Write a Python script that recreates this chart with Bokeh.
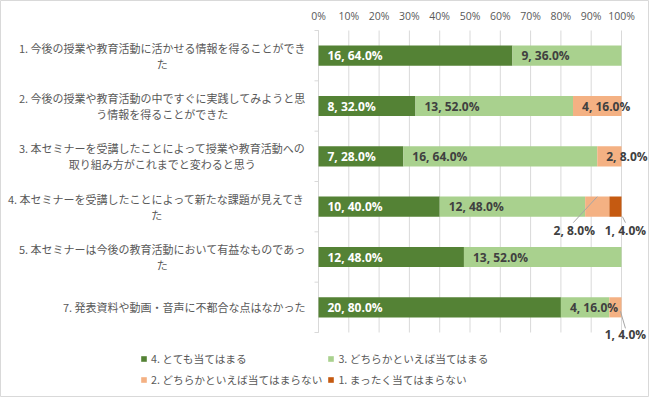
from bokeh.plotting import figure
from bokeh.models import ColumnDataSource, Range1d, Legend, LegendItem
from bokeh.core.properties import field, value
from bokeh.embed import file_html
from bokeh.resources import INLINE

# ---------------- data ----------------
categories = [
    "1. 今後の授業や教育活動に活かせる情報を得ることができ\nた",
    "2. 今後の授業や教育活動の中ですぐに実践してみようと思\nう情報を得ることができた",
    "3. 本セミナーを受講したことによって授業や教育活動への\n取り組み方がこれまでと変わると思う",
    "4. 本セミナーを受講したことによって新たな課題が見えてき\nた",
    "5. 本セミナーは今後の教育活動において有益なものであっ\nた",
    "7. 発表資料や動画・音声に不都合な点はなかった",
]
series_names = [
    "4. とても当てはまる",
    "3. どちらかといえば当てはまる",
    "2. どちらかといえば当てはまらない",
    "1. まったく当てはまらない",
]
counts_4 = [16, 8, 7, 10, 12, 20]
counts_3 = [9, 13, 16, 12, 13, 4]
counts_2 = [0, 4, 2, 2, 0, 1]
counts_1 = [0, 0, 0, 1, 0, 0]
respondents = 25
x_ticks = [0, 10, 20, 30, 40, 50, 60, 70, 80, 90, 100]
x_tick_labels = ["0%", "10%", "20%", "30%", "40%", "50%", "60%", "70%", "80%", "90%", "100%"]

# ---------------- style ----------------
series_colors = ["#548235", "#A9D18E", "#F4B183", "#C55A11"]
label_colors = ["#FFFFFF", "#404040", "#404040", "#FFFFFF"]
TEXT_GRAY = "#595959"
GRID = "#D9D9D9"
LEADER = "#A6A6A6"
CJK = "Noto Sans CJK JP"
NUM_FONT = "Open Sans"

FIG_W, FIG_H = 649, 397
PLOT_L, PLOT_W = 318, 303      # pixel position / width of the 0-100 % area
PLOT_T, PLOT_H = 30, 302       # pixel position / height of the category area
PX_X = PLOT_W / 100.0
n = len(categories)
PX_Y = PLOT_H / float(n)
CAT_FONT = 11
CAT_GAP = 13
BAR_H = 0.4
INSIDE_OFF = 9
TICK_LABEL_DY = -15           # px above the plot area
AXIS_TICK = 4
LABEL_FONT = "12px"

callouts = [
    dict(row=3, series=2, ldx=-23, ldy=24, s=(0, -10), e=(-1, -8)),
    dict(row=3, series=3, ldx=10, ldy=24, s=(7, 10), e=(0, -8)),
    dict(row=5, series=2, ldx=10, ldy=27, s=(5, 4), e=(0, -6)),
]

series_counts = [counts_4, counts_3, counts_2, counts_1]
ycent = [i + 0.5 for i in range(n)]

x_range = Range1d(-PLOT_L / PX_X, (FIG_W - PLOT_L) / PX_X)
y_range = Range1d((FIG_H - PLOT_T) / PX_Y, -PLOT_T / PX_Y)
p = figure(width=FIG_W, height=FIG_H, x_range=x_range, y_range=y_range,
           output_backend="svg", toolbar_location=None, x_axis_type=None, y_axis_type=None,
           min_border=0)
p.outline_line_color = GRID
p.grid.grid_line_color = None
p.background_fill_color = "white"
p.border_fill_color = "white"

# gridlines + top tick labels
p.segment(x0=x_ticks, y0=[0] * len(x_ticks), x1=x_ticks, y1=[n] * len(x_ticks),
          line_color=GRID, line_width=1)
p.text(x=x_ticks, y=[TICK_LABEL_DY / PX_Y] * len(x_ticks), text=x_tick_labels,
       text_align="center", text_baseline="middle", text_color=TEXT_GRAY,
       text_font=value(NUM_FONT), text_font_size="10.5px")

# vertical axis line with ticks between categories
bounds = list(range(n + 1))
p.segment(x0=[0], y0=[0], x1=[0], y1=[n], line_color=GRID, line_width=1)
p.segment(x0=[-AXIS_TICK / PX_X] * len(bounds), y0=bounds, x1=[0] * len(bounds), y1=bounds,
          line_color=GRID, line_width=1)

# bars
callout_keys = {(c["row"], c["series"]) for c in callouts}
cum = [0.0] * n
renderers = []
in_x, in_y, in_text, in_color = [], [], [], []
seg_info = {}
for s, vals in enumerate(series_counts):
    left = list(cum)
    pct = [v / respondents * 100 for v in vals]
    right = [l + q for l, q in zip(left, pct)]
    src = ColumnDataSource(dict(y=ycent, left=left, right=right))
    r = p.hbar(y="y", left="left", right="right", height=BAR_H, source=src,
               fill_color=series_colors[s], line_color=None)
    renderers.append(r)
    for i in range(n):
        if vals[i] > 0:
            txt = f"{vals[i]}, {pct[i]:.1f}%"
            seg_info[(i, s)] = ((left[i] + right[i]) / 2, txt)
            if (i, s) not in callout_keys:
                in_x.append(left[i]); in_y.append(ycent[i])
                in_text.append(txt); in_color.append(label_colors[s])
    cum = right

inside = ColumnDataSource(dict(x=in_x, y=in_y, text=in_text, color=in_color))
p.text(x="x", y="y", text="text", source=inside, x_offset=INSIDE_OFF,
       text_align="left", text_baseline="middle", text_color=field("color"),
       text_font=value(NUM_FONT), text_font_style="bold", text_font_size=LABEL_FONT)

# callout labels and leader lines
cx, cy, ct = [], [], []
x0, y0, x1, y1 = [], [], [], []
for c in callouts:
    xc, txt = seg_info[(c["row"], c["series"])]
    yc = ycent[c["row"]]
    lx = xc + c["ldx"] / PX_X
    ly = yc + c["ldy"] / PX_Y
    cx.append(lx); cy.append(ly); ct.append(txt)
    x0.append(xc + c["s"][0] / PX_X); y0.append(yc + c["s"][1] / PX_Y)
    x1.append(lx + c["e"][0] / PX_X); y1.append(ly + c["e"][1] / PX_Y)
p.segment(x0=x0, y0=y0, x1=x1, y1=y1, line_color=LEADER, line_width=1)
p.text(x=cx, y=cy, text=ct, text_align="center", text_baseline="middle",
       text_color="#404040", text_font=value(NUM_FONT), text_font_style="bold",
       text_font_size=LABEL_FONT)

# category labels (centred multi-line blocks, right edge near the axis)
def text_em(s):
    w = 0.0
    for ch in s:
        if ord(ch) < 128:
            w += {".": 0.27, " ": 0.22}.get(ch, 0.55)
        else:
            w += 1.0
    return w

xoff = [-(CAT_GAP + max(text_em(l) for l in c.split("\n")) * CAT_FONT / 2) for c in categories]
cat_src = ColumnDataSource(dict(y=ycent, text=categories, xoff=xoff, x=[0] * n))
p.text(x="x", y="y", text="text", source=cat_src, x_offset=field("xoff"),
       text_align="center", text_baseline="middle", text_color=TEXT_GRAY,
       text_font=value(CJK), text_font_size=f"{CAT_FONT}px", text_line_height=1.0)

# legend
items = [LegendItem(label=series_names[s], renderers=[renderers[s]]) for s in range(4)]
legend = Legend(items=items, location=(140, 10), orientation="horizontal", ncols=2,
                glyph_width=7, glyph_height=7, label_standoff=4, spacing=5,
                label_height=16, padding=0, margin=0, border_line_color=None,
                background_fill_alpha=0, label_text_color=TEXT_GRAY,
                label_text_font=CJK, label_text_font_size="10.7px")
p.add_layout(legend)

open("out.html", "w").write(file_html(p, INLINE, title="chart"))
